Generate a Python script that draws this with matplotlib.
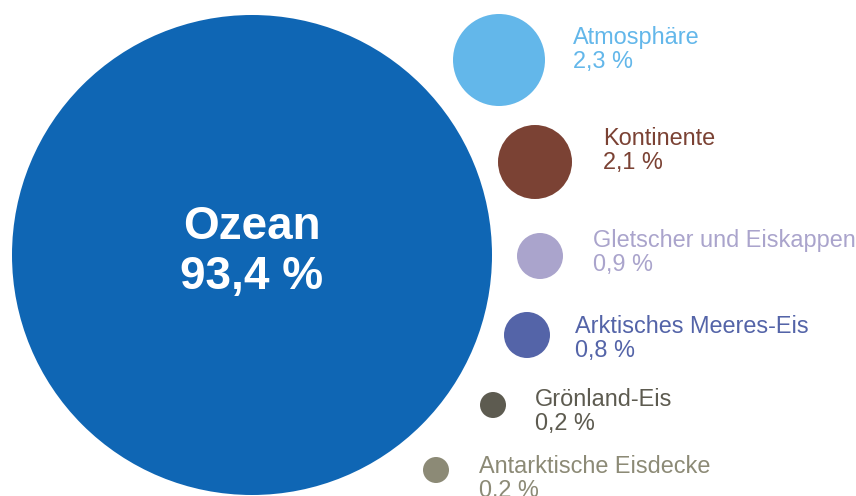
import matplotlib
matplotlib.use("Agg")
import matplotlib.pyplot as plt
from matplotlib.patches import Circle

# Data
categories = ["Ozean", "Atmosphäre", "Kontinente", "Gletscher und Eiskappen",
              "Arktisches Meeres-Eis", "Grönland-Eis", "Antarktische Eisdecke"]
values = [93.4, 2.3, 2.1, 0.9, 0.8, 0.2, 0.2]

# Layout (pixel coordinates: centre x, centre y, radius) and styles
cx = [252, 499, 535, 540, 527, 493, 436]
cy = [255, 60, 162, 256, 335, 405, 470]
rad = [240, 46, 37, 23, 23, 13, 13]
colors = ["#0F66B4", "#63B7EA", "#7B4234", "#AAA4CC", "#5464A8", "#5D5B50", "#8C8A76"]
text_x = [None, 573, 603, 593, 575, 535, 479]
text_y = [None, 44, 145, 247, 333, 406, 473]

fig = plt.figure(figsize=(8.56, 4.96), dpi=100)
ax = fig.add_axes([0, 0, 1, 1])
ax.set_xlim(0, 856)
ax.set_ylim(496, 0)
ax.set_aspect("equal")
ax.axis("off")

font = ["Liberation Sans", "DejaVu Sans"]

def fmt(v):
    return f"{v:.1f}".replace(".", ",") + " %"

for i, (name, v) in enumerate(zip(categories, values)):
    ax.add_patch(Circle((cx[i], cy[i]), rad[i], facecolor=colors[i], edgecolor="none"))
    if i == 0:
        ax.text(cx[i], 239, name, ha="center", va="baseline", color="white",
                fontsize=33, fontweight="bold", family=font)
        ax.text(cx[i], 289, fmt(v), ha="center", va="baseline", color="white",
                fontsize=33, fontweight="bold", family=font)
    else:
        ax.text(text_x[i], text_y[i], name, ha="left", va="baseline", color=colors[i],
                fontsize=16.9, family=font)
        ax.text(text_x[i], text_y[i] + 24, fmt(v), ha="left", va="baseline", color=colors[i],
                fontsize=16.9, family=font)

fig.savefig("out.png", dpi=100)
